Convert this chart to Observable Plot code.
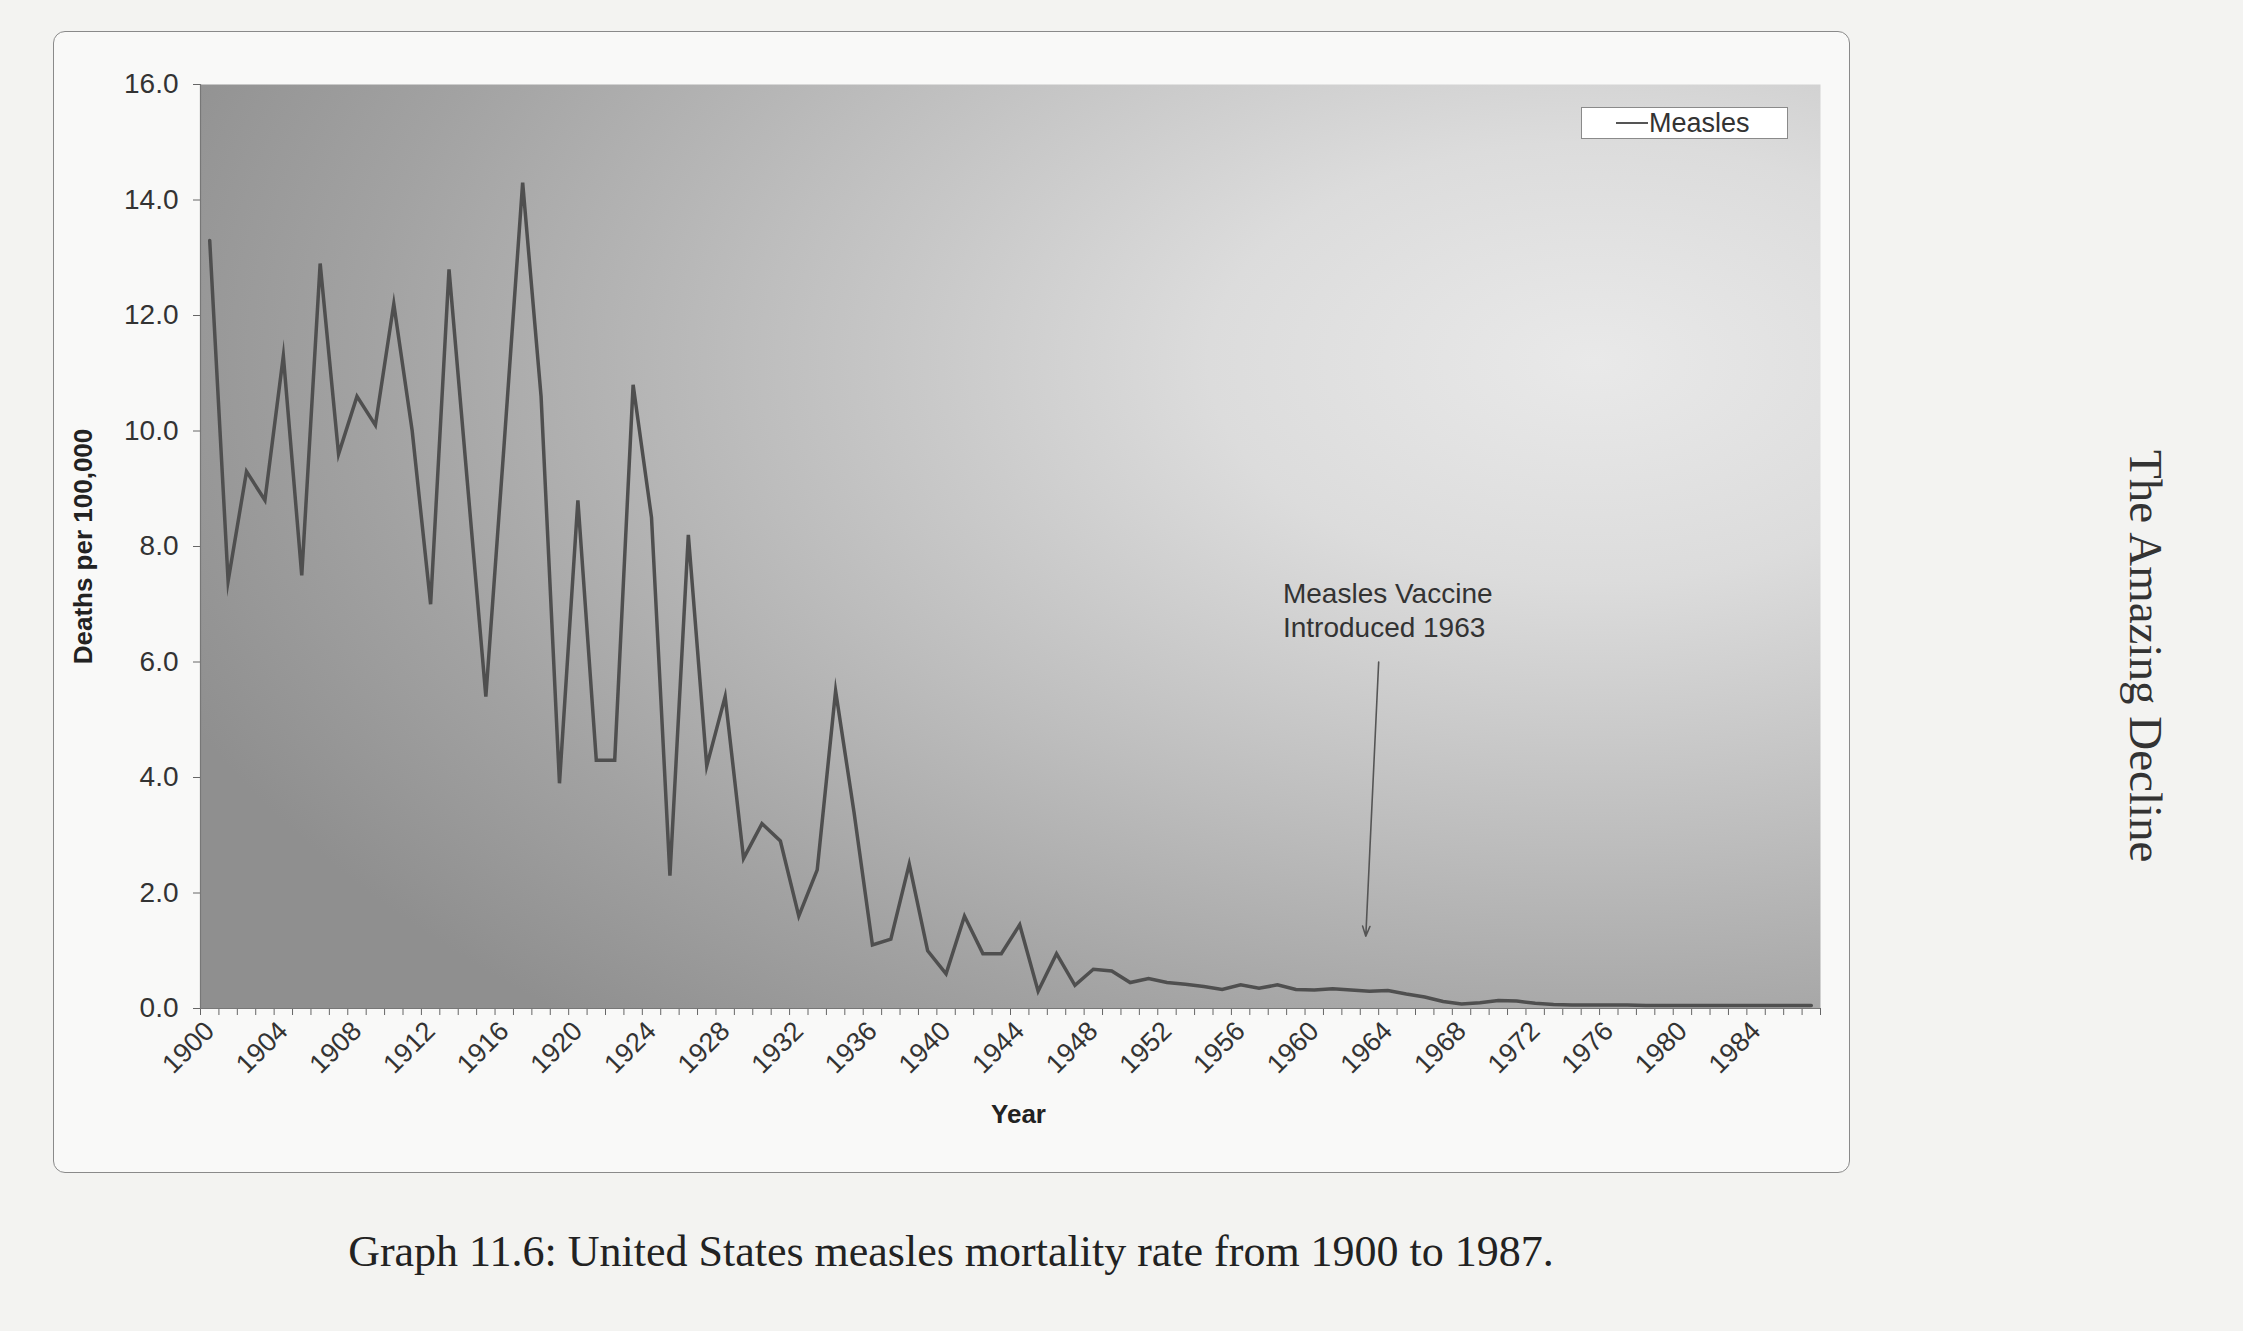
<!DOCTYPE html>
<html>
<head>
<meta charset="utf-8">
<script src="https://cdn.jsdelivr.net/npm/d3@7"></script>
<script src="https://cdn.jsdelivr.net/npm/@observablehq/plot@0.6"></script>
<style>
  html, body { margin: 0; padding: 0; }
  body { width: 2243px; height: 1331px; position: relative; overflow: hidden; background: #f3f3f1; }
  #box { position: absolute; left: 53px; top: 31px; width: 1797px; height: 1142px; border: 1.5px solid #8a8a8a; border-radius: 12px; background: #f9f9f8; box-sizing: border-box; }
  #chart { position: absolute; left: 0; top: 0; }
  #legend { position: absolute; left: 1581px; top: 107px; width: 207px; height: 32px; box-sizing: border-box; border: 1.5px solid #8a8a8a; background: #ffffff; font-family: "Liberation Sans", Arial, sans-serif; font-size: 27px; color: #333; }
  #legend .sw { position: absolute; left: 34px; top: 14px; width: 32px; height: 0; border-top: 2px solid #555; }
  #legend .lb { position: absolute; left: 67px; top: 0px; line-height: 30px; }
  #caption { position: absolute; left: 0; width: 1902px; top: 1230px; text-align: center; font-family: "Liberation Serif", "Times New Roman", serif; font-size: 44px; line-height: 44px; color: #222; }
  #side { position: absolute; left: 2122px; top: 450px; writing-mode: vertical-rl; font-family: "Liberation Serif", "Times New Roman", serif; font-size: 47px; line-height: 47px; color: #333; }
</style>
</head>
<body>
<div id="box"></div>
<div id="chart"></div>
<div id="legend"><div class="sw"></div><div class="lb">Measles</div></div>
<div id="caption">Graph 11.6: United States measles mortality rate from 1900 to 1987.</div>
<div id="side">The Amazing Decline</div>
<script>
// ---- Data ----
const firstYear = 1900;
const lastYear = 1987;
const rates = [
  13.3, 7.4, 9.3, 8.8, 11.3, 7.5, 12.9, 9.6, 10.6, 10.1,   // 1900-1909
  12.2, 10.0, 7.0, 12.8, 9.1, 5.4, 9.8, 14.3, 10.6, 3.9,   // 1910-1919
  8.8, 4.3, 4.3, 10.8, 8.5, 2.3, 8.2, 4.2, 5.4, 2.6,       // 1920-1929
  3.2, 2.9, 1.6, 2.4, 5.5, 3.4, 1.1, 1.2, 2.5, 1.0,        // 1930-1939
  0.6, 1.6, 0.95, 0.95, 1.45, 0.3, 0.95, 0.4, 0.68, 0.65,  // 1940-1949
  0.45, 0.52, 0.45, 0.42, 0.38, 0.33, 0.41, 0.35, 0.41, 0.33, // 1950-1959
  0.32, 0.34, 0.32, 0.3, 0.31, 0.25, 0.2, 0.12, 0.08, 0.1, // 1960-1969
  0.14, 0.13, 0.09, 0.07, 0.06, 0.06, 0.06, 0.06, 0.05, 0.05, // 1970-1979
  0.05, 0.05, 0.05, 0.05, 0.05, 0.05, 0.05, 0.05           // 1980-1987
];
const years = d3.range(firstYear, lastYear + 1);
const yTicks = [0, 2, 4, 6, 8, 10, 12, 14, 16];
const xTickLabels = [1900, 1904, 1908, 1912, 1916, 1920, 1924, 1928, 1932, 1936, 1940, 1944, 1948, 1952, 1956, 1960, 1964, 1968, 1972, 1976, 1980, 1984];
const seriesName = "Measles";
const yLabel = "Deaths per 100,000";
const xLabel = "Year";
const annotation = [{year: 1958.3, value: 7.45, text: "Measles Vaccine\nIntroduced 1963"}];
const annotationArrow = [{x1: 1963.5, y1: 6.0, x2: 1962.8, y2: 1.25}];

const data = years.map((y, i) => ({year: y, rate: rates[i]}));
const boundaries = d3.range(firstYear - 0.5, lastYear + 1, 1);

const chart = Plot.plot({
  width: 2243,
  height: 1331,
  marginLeft: 200,
  marginRight: 423,
  marginTop: 84,
  marginBottom: 323,
  style: {background: "transparent", fontFamily: "Liberation Sans, Arial, sans-serif", color: "#333"},
  x: {domain: [firstYear - 0.5, lastYear + 0.5]},
  y: {domain: [0, 16]},
  marks: [
    Plot.frame({fill: "url(#plotbg)", stroke: null}),
    Plot.axisY({ticks: yTicks, tickFormat: d => d.toFixed(1), tickSize: 7, tickPadding: 15, fontSize: 28, label: null, stroke: "#666", fill: "#333"}),
    Plot.axisX({ticks: boundaries, tickSize: 7, tickFormat: () => "", label: null, stroke: "#666"}),
    Plot.axisX({ticks: xTickLabels, tickSize: 0, tickPadding: 18, tickRotate: -45, tickFormat: d => String(d), fontSize: 27, label: null, fill: "#333"}),
    Plot.ruleX([firstYear - 0.5], {stroke: "#777", strokeWidth: 1.2}),
    Plot.ruleY([0], {stroke: "#777", strokeWidth: 1.2}),
    Plot.lineY(data, {x: "year", y: "rate", stroke: "#4f4f4f", strokeWidth: 3.5, strokeLinejoin: "miter", strokeMiterlimit: 10}),
    Plot.arrow(annotationArrow, {x1: "x1", y1: "y1", x2: "x2", y2: "y2", stroke: "#555", strokeWidth: 1.6, headLength: 10, headAngle: 40}),
    Plot.text(annotation, {x: "year", y: "value", text: "text", textAnchor: "start", lineAnchor: "top", lineHeight: 1.22, fontSize: 28, fill: "#333"}),
    Plot.text([yLabel], {frameAnchor: "left", dx: -117, rotate: -90, textAnchor: "middle", lineAnchor: "middle", fontWeight: "bold", fontSize: 26, fill: "#222"}),
    Plot.text([xLabel], {frameAnchor: "bottom", dx: 8, dy: 106, textAnchor: "middle", lineAnchor: "middle", fontWeight: "bold", fontSize: 26, fill: "#222"})
  ]
});

d3.select(chart).insert("defs", ":first-child").html(`
  <radialGradient id="plotbg" cx="0.86" cy="0.3" r="0.95" fx="0.86" fy="0.3">
    <stop offset="0%" stop-color="#e9e9e9"/>
    <stop offset="25%" stop-color="#dcdcdc"/>
    <stop offset="55%" stop-color="#bdbdbd"/>
    <stop offset="80%" stop-color="#a2a2a2"/>
    <stop offset="100%" stop-color="#8f8f8f"/>
  </radialGradient>`);

document.getElementById("chart").appendChild(chart);
</script>
</body>
</html>
